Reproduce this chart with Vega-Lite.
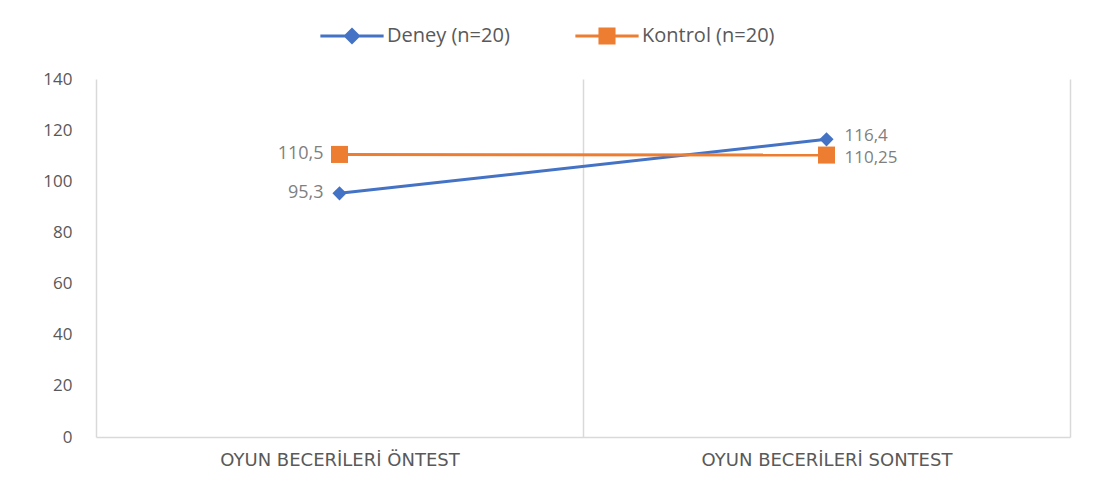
{
  "$schema": "https://vega.github.io/schema/vega-lite/v6.json",
  "width": 974,
  "height": 358,
  "autosize": "none",
  "padding": {"left": 96, "top": 79, "right": 31, "bottom": 46},
  "background": "white",
  "data": {
    "values": [
      {"phase": "OYUN BECERİLERİ ÖNTEST", "series": "Deney (n=20)", "value": 95.3, "label": "95,3"},
      {"phase": "OYUN BECERİLERİ SONTEST", "series": "Deney (n=20)", "value": 116.4, "label": "116,4"},
      {"phase": "OYUN BECERİLERİ ÖNTEST", "series": "Kontrol (n=20)", "value": 110.5, "label": "110,5"},
      {"phase": "OYUN BECERİLERİ SONTEST", "series": "Kontrol (n=20)", "value": 110.25, "label": "110,25"}
    ]
  },
  "encoding": {
    "x": {
      "field": "phase", "type": "nominal", "bandPosition": 0.5,
      "sort": ["OYUN BECERİLERİ ÖNTEST", "OYUN BECERİLERİ SONTEST"],
      "scale": {"type": "band", "paddingInner": 0, "paddingOuter": 0},
      "axis": {
        "title": null, "labelAngle": 0, "ticks": false, "tickBand": "extent",
        "grid": true, "gridColor": "#d9d9d9", "gridWidth": 1.5,
        "domainColor": "#d9d9d9", "domainWidth": 1.5,
        "labelFont": "DejaVu Sans", "labelFontSize": 18, "labelColor": "#595959",
        "labelPadding": 14, "labelLimit": 0
      }
    },
    "y": {
      "field": "value", "type": "quantitative",
      "scale": {"domain": [0, 140]},
      "axis": {
        "title": null, "values": [0, 20, 40, 60, 80, 100, 120, 140],
        "grid": false, "domain": false, "ticks": false,
        "labelFont": "Open Sans", "labelFontSize": 17, "labelColor": "#595959",
        "labelPadding": 24
      }
    }
  },
  "layer": [
    {
      "transform": [{"filter": "datum.series === 'Deney (n=20)'"}],
      "mark": {"type": "line", "color": "#4472C4", "strokeWidth": 3}
    },
    {
      "transform": [{"filter": "datum.series === 'Kontrol (n=20)'"}],
      "mark": {"type": "line", "color": "#ED7D31", "strokeWidth": 3}
    },
    {
      "transform": [{"filter": "datum.series === 'Deney (n=20)'"}],
      "mark": {"type": "point", "shape": "diamond", "filled": true, "color": "#4472C4", "size": 200, "opacity": 1}
    },
    {
      "transform": [{"filter": "datum.series === 'Kontrol (n=20)'"}],
      "mark": {"type": "point", "shape": "square", "filled": true, "color": "#ED7D31", "size": 290, "opacity": 1}
    },
    {
      "transform": [{"filter": "datum.phase === 'OYUN BECERİLERİ ÖNTEST'"}],
      "mark": {"type": "text", "align": "right", "baseline": "middle", "dx": -16, "font": "Open Sans", "fontSize": 18, "color": "#7f7f7f"},
      "encoding": {"text": {"field": "label"}}
    },
    {
      "transform": [{"filter": "datum.phase === 'OYUN BECERİLERİ SONTEST' && datum.series === 'Deney (n=20)'"}],
      "mark": {"type": "text", "align": "left", "baseline": "middle", "dx": 18, "dy": -3, "font": "Open Sans", "fontSize": 17, "color": "#7f7f7f"},
      "encoding": {"text": {"field": "label"}}
    },
    {
      "transform": [{"filter": "datum.phase === 'OYUN BECERİLERİ SONTEST' && datum.series === 'Kontrol (n=20)'"}],
      "mark": {"type": "text", "align": "left", "baseline": "middle", "dx": 18, "dy": 3, "font": "Open Sans", "fontSize": 17, "color": "#7f7f7f"},
      "encoding": {"text": {"field": "label"}}
    },
    {
      "mark": {"type": "point", "filled": true, "opacity": 0},
      "encoding": {
        "color": {
          "field": "series", "type": "nominal",
          "scale": {"domain": ["Deney (n=20)", "Kontrol (n=20)"], "range": ["#4472C4", "#ED7D31"]},
          "legend": {
            "title": null, "orient": "none", "direction": "horizontal",
            "legendX": 224, "legendY": -75, "symbolSize": 4000, "symbolOpacity": 1,
            "labelFont": "Open Sans", "labelFontSize": 20, "labelColor": "#595959",
            "labelOffset": 3, "columnPadding": 65, "symbolStrokeWidth": 0, "labelLimit": 0
          }
        },
        "shape": {
          "field": "series", "type": "nominal",
          "scale": {
            "domain": ["Deney (n=20)", "Kontrol (n=20)"],
            "range": [
              "M-1,-0.05L1,-0.05L1,0.05L-1,0.05Z M0,-0.27L0.27,0L0,0.27L-0.27,0Z",
              "M-1,-0.05L1,-0.05L1,0.05L-1,0.05Z M-0.27,-0.27L0.27,-0.27L0.27,0.27L-0.27,0.27Z"
            ]
          },
          "legend": {
            "title": null, "orient": "none", "direction": "horizontal",
            "legendX": 224, "legendY": -75, "symbolSize": 4000, "symbolOpacity": 1,
            "labelFont": "Open Sans", "labelFontSize": 20, "labelColor": "#595959",
            "labelOffset": 3, "columnPadding": 65, "symbolStrokeWidth": 0, "labelLimit": 0
          }
        }
      }
    }
  ],
  "config": {"view": {"stroke": null}}
}
